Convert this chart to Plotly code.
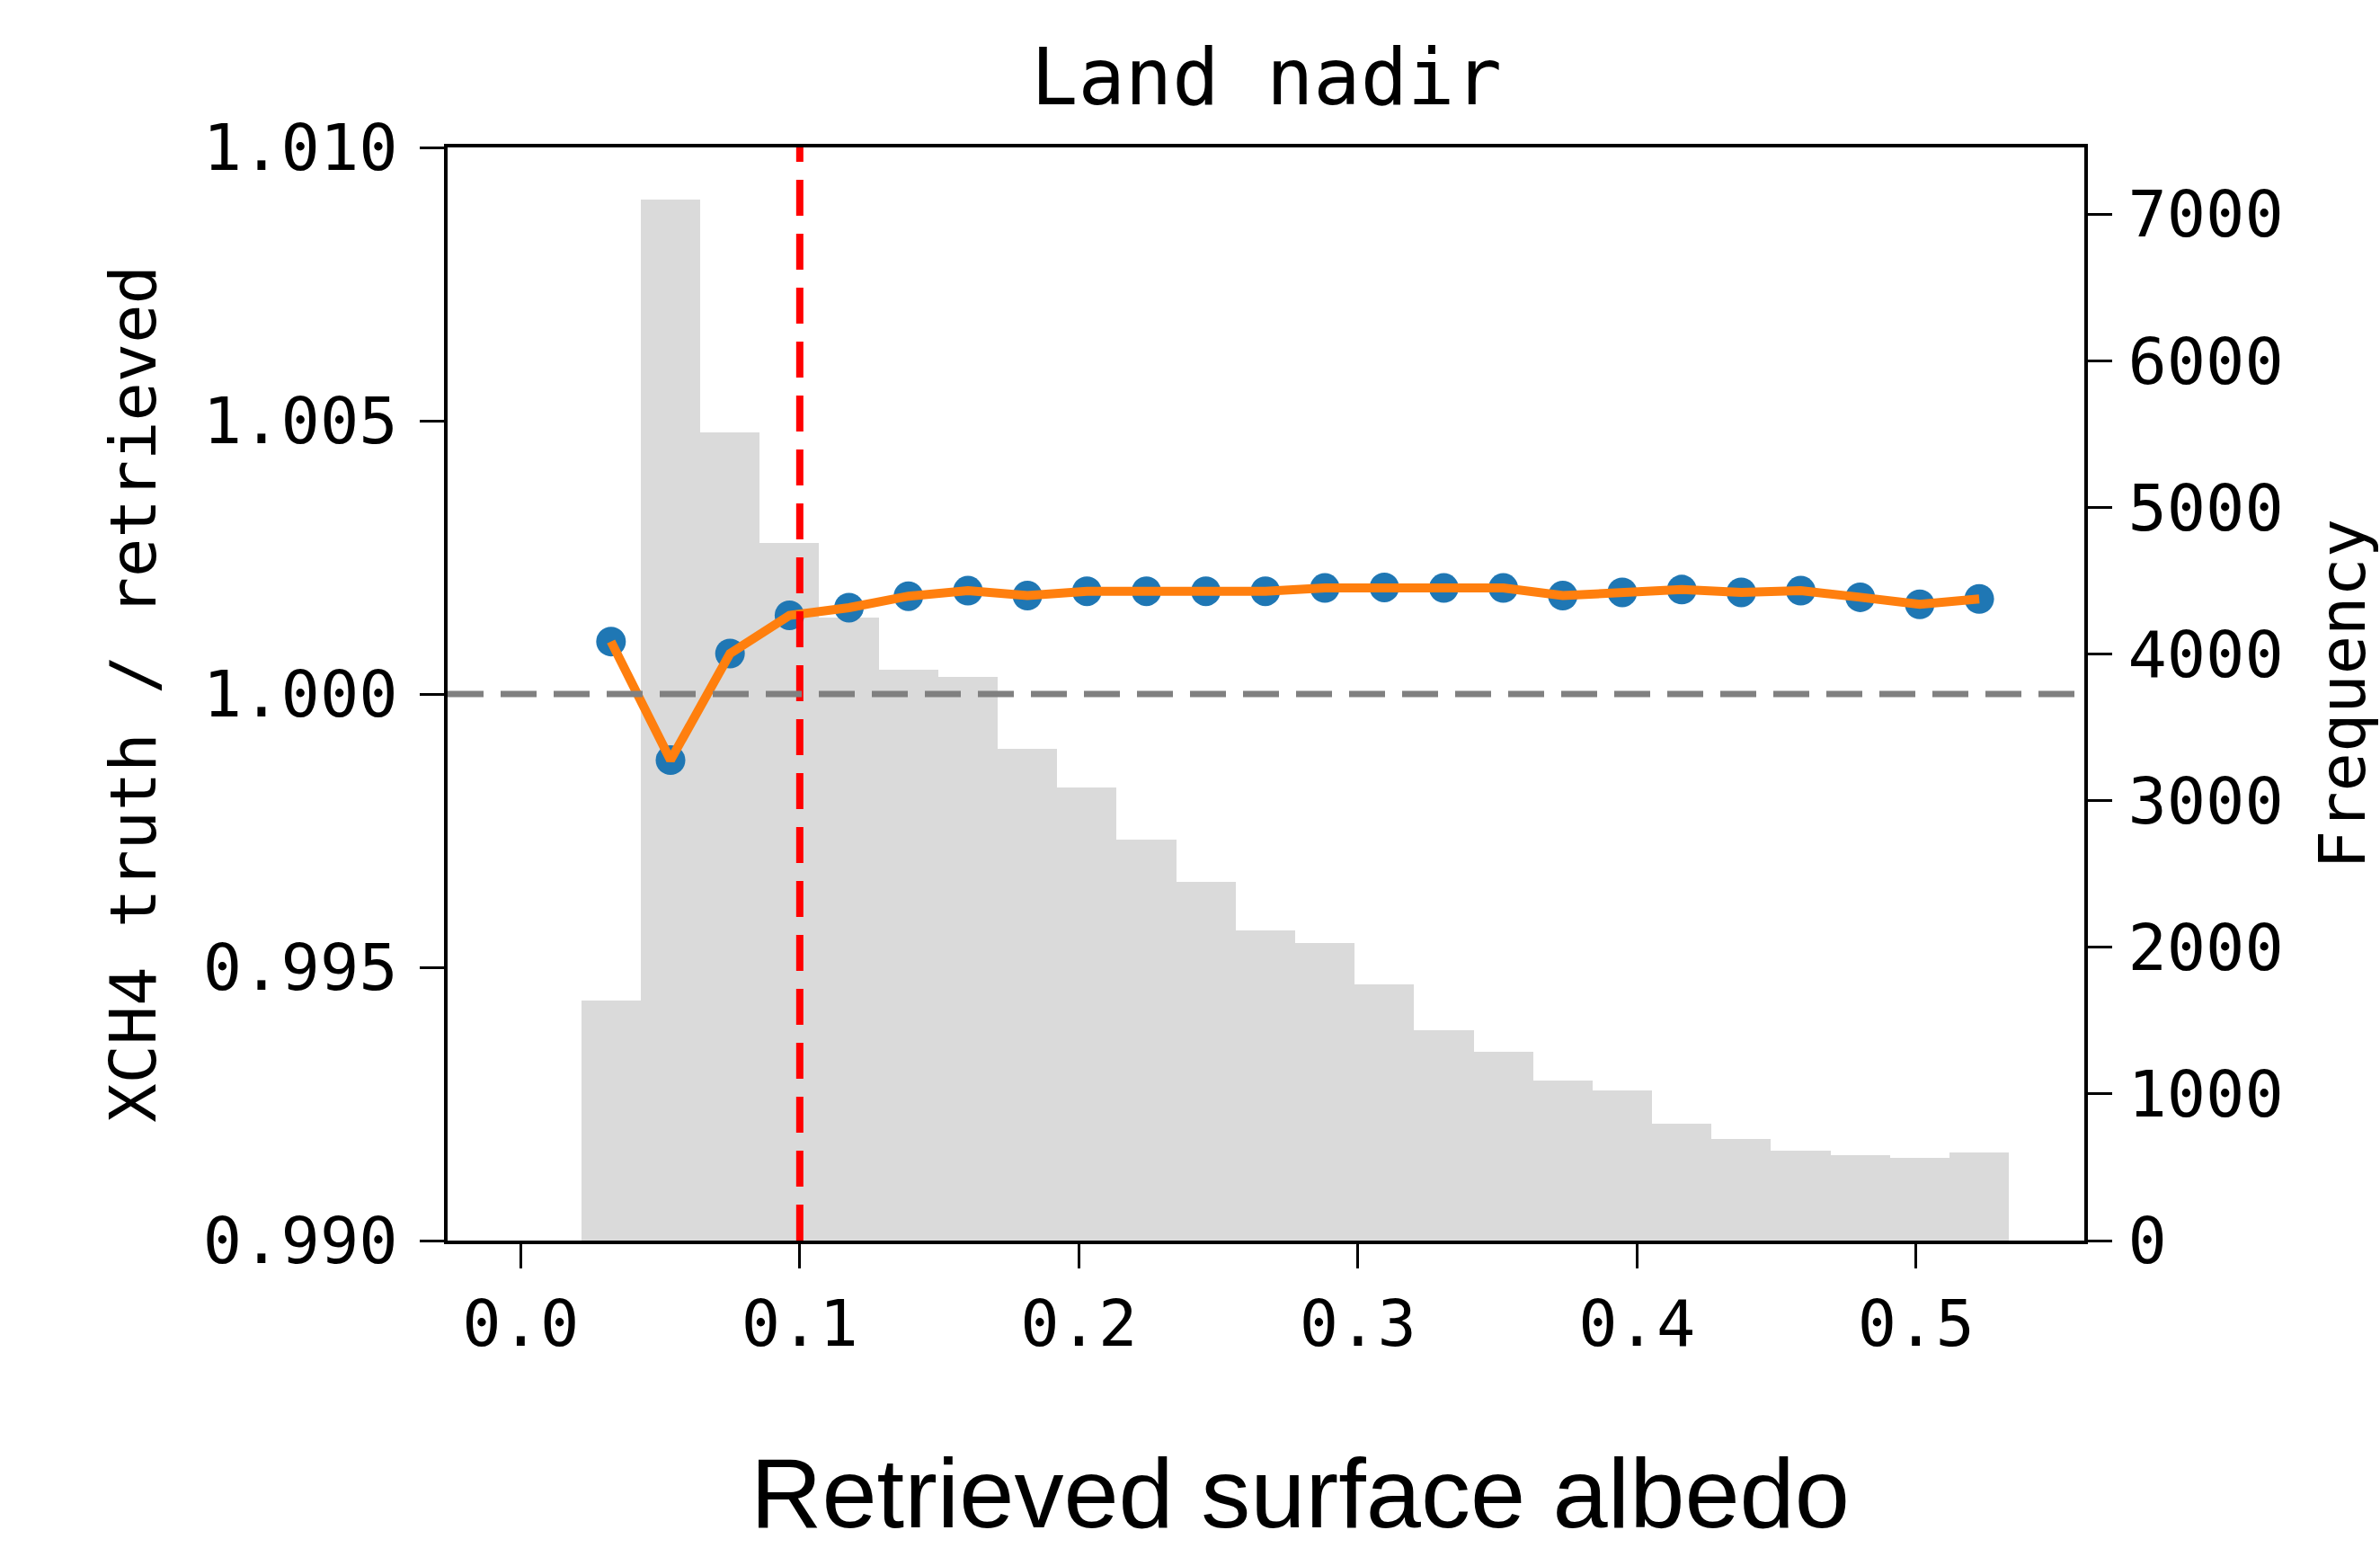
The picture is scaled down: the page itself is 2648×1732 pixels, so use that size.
import numpy as np
import plotly.graph_objects as go

# ---------------- data ----------------
bin_start = 0.0217
bin_end = 0.5333
n_bins = 24
frequency = [1640, 7100, 5510, 4760, 4250, 3895, 3845, 3355, 3090, 2735,
             2445, 2115, 2030, 1750, 1435, 1285, 1090, 1025, 800, 690,
             615, 585, 562, 598]
ratio = [1.00096, 0.99879, 1.00074, 1.00144, 1.00158, 1.00179, 1.00189, 1.00180,
         1.00188, 1.00188, 1.00188, 1.00188, 1.00194, 1.00195, 1.00194, 1.00194,
         1.00180, 1.00186, 1.00191, 1.00186, 1.00189, 1.00177, 1.00164, 1.00174]
threshold_albedo = 0.1
reference_ratio = 1.0
x_ticks = [0.0, 0.1, 0.2, 0.3, 0.4, 0.5]
left_ticks = [0.990, 0.995, 1.000, 1.005, 1.010]
right_ticks = [0, 1000, 2000, 3000, 4000, 5000, 6000, 7000]

edges = np.linspace(bin_start, bin_end, n_bins + 1)
centers = (edges[:-1] + edges[1:]) / 2
width = edges[1] - edges[0]

MONO = "DejaVu Sans Mono"
fig = go.Figure()

fig.add_trace(go.Bar(x=centers, y=frequency, width=width, marker=dict(color="#dadada", line=dict(width=0)),
                     yaxis="y", xaxis="x", showlegend=False, hoverinfo="skip"))
fig.add_trace(go.Scatter(x=centers, y=ratio, mode="markers", yaxis="y2",
                         marker=dict(color="#1f77b4", size=33, line=dict(width=0)), showlegend=False))
fig.add_trace(go.Scatter(x=centers, y=ratio, mode="lines", yaxis="y2",
                         line=dict(color="#ff7f0e", width=10), showlegend=False))

fig.add_shape(type="line", xref="x", yref="paper", x0=threshold_albedo, x1=threshold_albedo, y0=0, y1=1,
              line=dict(color="#ff0000", width=8, dash="40px,20px"), layer="above")
fig.add_shape(type="line", xref="paper", yref="y2", x0=0, x1=1, y0=reference_ratio, y1=reference_ratio,
              line=dict(color="#808080", width=7, dash="40px,19px"), layer="above")

axis_common = dict(showline=True, linecolor="black", linewidth=4, ticks="outside", ticklen=27,
                   tickwidth=3, tickcolor="black", showgrid=False, zeroline=False,
                   tickfont=dict(family=MONO, size=72, color="black"))

fig.update_layout(
    width=2648, height=1732,
    margin=dict(l=498, r=329, t=164, b=352),
    paper_bgcolor="white", plot_bgcolor="white",
    bargap=0,
    xaxis=dict(range=[-0.0262, 0.5603], tickvals=x_ticks, ticktext=[f"{v:.1f}" for v in x_ticks],
               mirror=True, ticklabelstandoff=0, **axis_common),
    yaxis=dict(range=[0, 7455], side="right", tickvals=right_ticks, ticktext=[str(v) for v in right_ticks],
               ticklabelstandoff=3,
               title=dict(text="Frequency", font=dict(family=MONO, size=72, color="black"), standoff=44),
               **axis_common),
    yaxis2=dict(range=[0.99, 1.01], side="left", overlaying="y", tickvals=left_ticks,
                ticktext=[f"{v:.3f}" for v in left_ticks], ticklabelstandoff=10,
                title=dict(text="XCH4 truth / retrieved", font=dict(family=MONO, size=72, color="black"), standoff=30),
                **axis_common),
    annotations=[
        dict(text="Land nadir", xref="paper", yref="paper", x=0.5, y=1, yshift=78, xanchor="center",
             yanchor="middle", showarrow=False, font=dict(family=MONO, size=87, color="black")),
        dict(text="Retrieved surface albedo", xref="paper", yref="paper",
             x=(1446 - 498) / (2319 - 498), y=0, yshift=-(1660 - 1380), xanchor="center", yanchor="middle",
             showarrow=False, font=dict(family="Liberation Sans", size=110, color="black")),
    ],
)

fig.write_html("out.html", config={"displayModeBar": False},
               post_script="document.body.style.margin='0';")
